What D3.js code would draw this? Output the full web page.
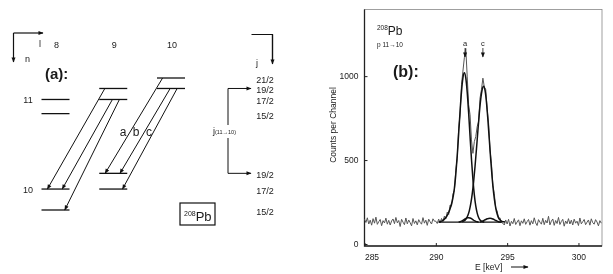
<!DOCTYPE html>
<html lang="en">
<head>
	<meta charset="UTF-8">
	<title>208Pb transitions and spectrum</title>
	<script src="https://cdn.jsdelivr.net/npm/d3@7/dist/d3.min.js"></script>
	<style>
		body { margin: 0; background: #fff; }
		svg { filter: grayscale(100%); }
		svg text { font-family: "Liberation Sans", Arial, sans-serif; fill: #1a1a1a; }
		.axis path { stroke: none; }
		.axis line { stroke: #222; }
	</style>
</head>
<body>
	<div id="container"></div>
	<script>
		var width = 613, height = 274;

		// ---- panel (a): level scheme ----
		// relative energies of the levels (arbitrary units)
		var levelJ = ["21/2", "19/2", "17/2", "15/2"];
		var levelE11 = [0, -1, -2.05, -3.4];
		var levelJ10 = ["19/2", "17/2", "15/2"];
		var levelE10 = [-9.1, -10.6, -12.6];
		var columnsL = [8, 9, 10];
		var levels = [
			{ l: 10, n: 11, j: "21/2" }, { l: 10, n: 11, j: "19/2" },
			{ l: 9, n: 11, j: "19/2" }, { l: 9, n: 11, j: "17/2" },
			{ l: 8, n: 11, j: "17/2" }, { l: 8, n: 11, j: "15/2" },
			{ l: 9, n: 10, j: "19/2" }, { l: 9, n: 10, j: "17/2" },
			{ l: 8, n: 10, j: "17/2" }, { l: 8, n: 10, j: "15/2" }
		];
		var transitions = [
			{ from: [10, "21/2"], to: [9, "19/2"], name: "a" },
			{ from: [10, "19/2"], to: [9, "19/2"], name: "b" },
			{ from: [10, "19/2"], to: [9, "17/2"], name: "c" },
			{ from: [9, "19/2"], to: [8, "17/2"], name: "" },
			{ from: [9, "17/2"], to: [8, "17/2"], name: "" },
			{ from: [9, "17/2"], to: [8, "15/2"], name: "" }
		];

		// ---- panel (b): spectrum ----
		var specStart = 285.0, specStep = 0.1;
		var specCounts = [
			148,128,156,119,142,112,151,124,160,117,
			133,146,109,139,125,154,118,141,113,137,
			149,121,158,126,140,104,147,130,115,155,
			120,143,127,108,152,122,138,114,145,129,
			118,157,124,142,111,148,132,119,150,136,
			136,122,148,126,152,134,166,149,190,176,
			232,226,298,318,440,510,690,770,950,1030,
			1110,1165,1000,830,770,620,540,610,640,700,
			730,870,920,988,935,920,800,720,560,480,
			350,300,212,196,150,156,128,
			124,113,143,119,147,107,135,121,152,116,
			131,144,109,138,123,150,117,133,146,112,
			139,120,156,126,110,145,130,118,153,115,
			141,125,165,114,136,149,111,140,122,158,
			116,134,147,106,137,121,151,119,142,113,
			148,124,136,110,155,120,133,146,115,130,
			143,112,150,127,118,145,131,108,139,124
		];
		var fitA = { start: 290.2, counts: [131,133,136,141,148,158,171,188,210,238,275,330,415,525,655,790,908,990,1020,990,905,782,641,505,386,293,227,184,158,143,136,133,131] };
		var fitC = { start: 291.85, counts: [133,136,142,153,171,199,240,297,371,463,567,676,779,864,920,940,915,845,741,621,501,393,305,240,195,166,148,139,134,132,131] };
		var fitB1 = { start: 291.6, counts: [131,133,136,141,147,152,156,157,155,151,145,139,135,132,130] };
		var fitB2 = { start: 293.1, counts: [131,133,137,142,146,150,152,153,152,149,145,140,136,133,131,130] };
		var baseline = [[290.2, 130], [294.6, 130]];
		var xTicks = [285, 290, 295, 300];
		var yTicks = [0, 500, 1000];
		var peakMarks = [{ e: 292.05, name: "a" }, { e: 293.3, name: "c" }];

		var svg = d3.select("#container").append("svg")
			.attr("width", width)
			.attr("height", height);

		var defs = svg.append("defs");
		defs.append("marker")
				.attr("id", "head")
				.attr("viewBox", "0 0 10 10")
				.attr("refX", 9).attr("refY", 5)
				.attr("markerWidth", 6).attr("markerHeight", 5)
				.attr("markerUnits", "userSpaceOnUse")
				.attr("orient", "auto")
			.append("path")
				.attr("d", "M0,1 L10,5 L0,9 Z")
				.attr("fill", "#111");

		// ===== panel (a) =====
		var pa = svg.append("g");
		var colX = d3.scaleLinear().domain([8, 10]).range([55.5, 171]);
		var colW = 28;
		var ey = d3.scaleLinear().domain([0, -12.6]).range([78, 210]);

		function levelY(n, j) {
			return n === 11 ? ey(levelE11[levelJ.indexOf(j)]) : ey(levelE10[levelJ10.indexOf(j)]);
		}

		// corner arrows
		pa.append("line").attr("x1", 13.5).attr("y1", 33).attr("x2", 13.5).attr("y2", 62)
			.attr("stroke", "#111").attr("stroke-width", 1.2).attr("marker-end", "url(#head)");
		pa.append("line").attr("x1", 13.5).attr("y1", 33).attr("x2", 43).attr("y2", 33)
			.attr("stroke", "#111").attr("stroke-width", 1.2).attr("marker-end", "url(#head)");
		pa.append("text").attr("x", 39).attr("y", 47).attr("font-size", 9).text("l");
		pa.append("text").attr("x", 25).attr("y", 62).attr("font-size", 9).text("n");

		pa.append("path").attr("d", "M251.5,34.5 H272.5 V60").attr("fill", "none")
			.attr("stroke", "#111").attr("stroke-width", 1.2);
		pa.append("line").attr("x1", 272.5).attr("y1", 34.5).attr("x2", 272.5).attr("y2", 64)
			.attr("stroke", "#111").attr("stroke-width", 1.2).attr("marker-end", "url(#head)");
		pa.append("text").attr("x", 256).attr("y", 66).attr("font-size", 9).text("j");

		pa.selectAll(".collabel").data(columnsL).enter().append("text")
			.attr("x", function(d) { return colX(d) + 1; })
			.attr("y", 48)
			.attr("text-anchor", "middle")
			.attr("font-size", 9)
			.text(function(d) { return d; });

		pa.append("text").attr("x", 45).attr("y", 79)
			.attr("font-size", 15).attr("font-weight", "bold").text("(a):");

		pa.append("text").attr("x", 28).attr("y", 103).attr("text-anchor", "middle")
			.attr("font-size", 9).text("11");
		pa.append("text").attr("x", 28).attr("y", 193).attr("text-anchor", "middle")
			.attr("font-size", 9).text("10");

		pa.selectAll(".level").data(levels).enter().append("line")
			.attr("x1", function(d) { return colX(d.l) - colW / 2; })
			.attr("x2", function(d) { return colX(d.l) + colW / 2; })
			.attr("y1", function(d) { return levelY(d.n, d.j); })
			.attr("y2", function(d) { return levelY(d.n, d.j); })
			.attr("stroke", "#111")
			.attr("stroke-width", 1.3);

		var startFrac = [0.2, 0.47, 0.72];
		var endFrac = [0.21, 0.74, 0.83];
		pa.selectAll(".trans").data(transitions).enter().append("line")
			.attr("x1", function(d, i) { return colX(d.from[0]) - colW / 2 + startFrac[i % 3] * colW; })
			.attr("y1", function(d) { return levelY(11, d.from[1]); })
			.attr("x2", function(d, i) { return colX(d.to[0]) - colW / 2 + endFrac[i % 3] * colW; })
			.attr("y2", function(d) { return levelY(10, d.to[1]); })
			.attr("stroke", "#111")
			.attr("stroke-width", 1)
			.attr("marker-end", "url(#head)");

		var named = transitions.filter(function(d) { return d.name; });
		pa.selectAll(".tname").data(named).enter().append("text")
			.attr("x", function(d, i) { return 123 + i * 13; })
			.attr("y", 136)
			.attr("text-anchor", "middle")
			.attr("font-size", 12)
			.text(function(d) { return d.name; });

		// j labels
		pa.selectAll(".j11").data(levelJ).enter().append("text")
			.attr("x", 265).attr("y", function(d, i) { return ey(levelE11[i]) + 5; })
			.attr("text-anchor", "middle").attr("font-size", 9)
			.text(function(d) { return d; });
		pa.selectAll(".j10").data(levelJ10).enter().append("text")
			.attr("x", 265).attr("y", function(d, i) { return ey(levelE10[i]) + 5; })
			.attr("text-anchor", "middle").attr("font-size", 9)
			.text(function(d) { return d; });

		// j(11->10) bracket
		var yTop = ey(levelE11[1]), yBot = ey(levelE10[0]);
		pa.append("line").attr("x1", 228).attr("x2", 228).attr("y1", yTop).attr("y2", 125)
			.attr("stroke", "#111");
		pa.append("line").attr("x1", 228).attr("x2", 228).attr("y1", 138).attr("y2", yBot)
			.attr("stroke", "#111");
		pa.append("line").attr("x1", 228).attr("x2", 251).attr("y1", yTop).attr("y2", yTop)
			.attr("stroke", "#111").attr("marker-end", "url(#head)");
		pa.append("line").attr("x1", 228).attr("x2", 251).attr("y1", yBot).attr("y2", yBot)
			.attr("stroke", "#111").attr("marker-end", "url(#head)");
		var jl = pa.append("text").attr("x", 213).attr("y", 134).attr("font-size", 9);
		jl.append("tspan").text("j");
		jl.append("tspan").attr("font-size", 5.5).text("(11→10)");

		// 208Pb box
		pa.append("rect").attr("x", 180).attr("y", 203).attr("width", 35).attr("height", 22)
			.attr("fill", "none").attr("stroke", "#111").attr("stroke-width", 1.2);
		var pb = pa.append("text").attr("x", 184).attr("y", 221);
		pb.append("tspan").attr("font-size", 7).attr("dy", -5).text("208");
		pb.append("tspan").attr("font-size", 13).attr("dy", 5).text("Pb");

		// ===== panel (b) =====
		var pb2 = svg.append("g");
		var x = d3.scaleLinear().domain([285, 301.65]).range([364.5, 602]);
		var y = d3.scaleLinear().domain([-12, 1400]).range([246, 9]);

		pb2.append("rect").attr("x", 364.5).attr("y", 9.5).attr("width", 237.5).attr("height", 236.5)
			.attr("fill", "none").attr("stroke", "#888").attr("stroke-width", 0.8);
		pb2.append("path").attr("d", "M364.5,9.5 V246 H602")
			.attr("fill", "none").attr("stroke", "#222").attr("stroke-width", 1.3);

		var xAxis = d3.axisBottom(x).tickValues(xTicks).tickSize(-3).tickPadding(8);
		var gx = pb2.append("g").attr("class", "axis").attr("transform", "translate(0,246)").call(xAxis);
		gx.selectAll("text").attr("font-size", 8.5).attr("fill", "#1a1a1a")
			.attr("dx", function(d) { return d === 285 ? 7 : 0; });
		var yAxis = d3.axisLeft(y).tickValues(yTicks).tickFormat(d3.format("d")).tickSize(-3).tickPadding(6);
		var gy = pb2.append("g").attr("class", "axis").attr("transform", "translate(364.5,0)").call(yAxis);
		gy.selectAll("text").attr("font-size", 8.5).attr("fill", "#1a1a1a");

		pb2.append("text")
			.attr("transform", "translate(336,125) rotate(-90)")
			.attr("text-anchor", "middle").attr("font-size", 8.5)
			.text("Counts per Channel");
		pb2.append("text").attr("x", 475).attr("y", 270).attr("font-size", 8.5).text("E [keV]");
		pb2.append("line").attr("x1", 511).attr("x2", 528).attr("y1", 267).attr("y2", 267)
			.attr("stroke", "#111").attr("marker-end", "url(#head)");

		var specData = specCounts.map(function(c, i) { return [specStart + i * specStep, c]; });
		var line = d3.line()
			.x(function(d) { return x(d[0]); })
			.y(function(d) { return y(d[1]); });

		pb2.append("path").datum(specData)
			.attr("d", line)
			.attr("fill", "none").attr("stroke", "#555").attr("stroke-width", 1);

		line.curve(d3.curveMonotoneX);
		[fitA, fitC, fitB1, fitB2].forEach(function(f) {
			var pts = f.counts.map(function(c, i) { return [f.start + i * 0.1, c]; });
			pb2.append("path").datum(pts)
				.attr("d", line)
				.attr("fill", "none").attr("stroke", "#111").attr("stroke-width", 1.5);
		});
		pb2.append("path").datum(baseline).attr("d", line)
			.attr("fill", "none").attr("stroke", "#111").attr("stroke-width", 1.2);

		// peak markers
		pb2.selectAll(".pk").data(peakMarks).enter().append("text")
			.attr("x", function(d) { return x(d.e); }).attr("y", 46)
			.attr("text-anchor", "middle").attr("font-size", 7.5)
			.text(function(d) { return d.name; });
		pb2.selectAll(".pkarrow").data(peakMarks).enter().append("line")
			.attr("x1", function(d) { return x(d.e); }).attr("x2", function(d) { return x(d.e); })
			.attr("y1", 48).attr("y2", 57)
			.attr("stroke", "#111").attr("stroke-width", 0.8)
			.attr("marker-end", "url(#head)");

		var tl = pb2.append("text").attr("x", 377).attr("y", 35);
		tl.append("tspan").attr("font-size", 6.5).attr("dy", -5).text("208");
		tl.append("tspan").attr("font-size", 12).attr("dy", 5).text("Pb");
		pb2.append("text").attr("x", 377).attr("y", 47).attr("font-size", 6.5).text("p 11→10");
		pb2.append("text").attr("x", 393).attr("y", 77)
			.attr("font-size", 16).attr("font-weight", "bold").text("(b):");
	</script>
</body>
</html>
